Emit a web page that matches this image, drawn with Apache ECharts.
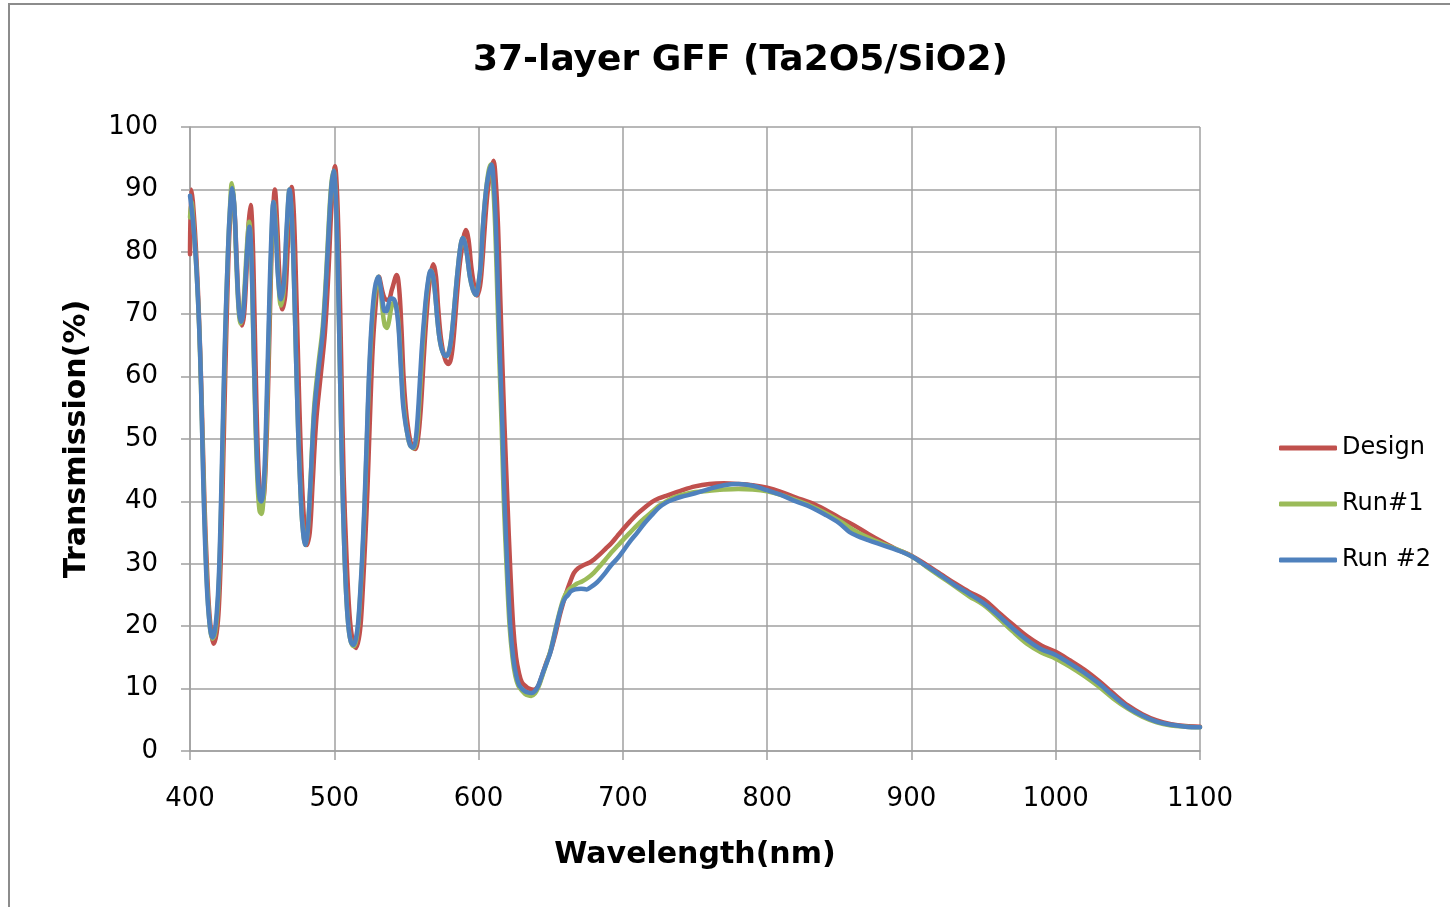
<!DOCTYPE html>
<html>
<head>
<meta charset="utf-8">
<title>37-layer GFF</title>
<script src="https://cdn.jsdelivr.net/npm/echarts@6/dist/echarts.min.js"></script>
<style>
html,body{margin:0;padding:0;background:#fff;}
#frame{position:absolute;left:8px;top:3px;width:1442px;height:904px;border-top:2px solid #8c8c8c;border-left:2px solid #8c8c8c;box-sizing:border-box;pointer-events:none;}
#chart{position:absolute;left:0;top:0;width:1450px;height:907px;}
</style>
</head>
<body>
<div id="chart"></div>
<div id="frame"></div>
<script>
// ---- data ----
const titleText = '37-layer GFF (Ta2O5/SiO2)';
const xTicks = [400, 500, 600, 700, 800, 900, 1000, 1100];
const yTicks = [0, 10, 20, 30, 40, 50, 60, 70, 80, 90, 100];
const seriesNames = ['Design', 'Run#1', 'Run #2'];

const wlDesign = [400,400.8,402,404,406,408,410,412,414,416.5,418.5,420,421.5,423,424.5,426,427.5,429.5,431,432.5,434,436,437.5,439,440.5,442,443.3,444.7,446,447.5,449,450,451.3,452.5,454,455.5,457,458.8,460.5,462,464,466,468,470.5,472,473.5,475,476.5,478.5,481,483,485,487.5,490.5,493.5,496,498,500.5,502,503.5,505,506.5,508.5,510.5,512.5,515,517,518.5,520,521.5,523,524.5,526.5,528.5,531,533,535,537.5,540,543.3,545,546.5,548,549.5,551,553.5,556,558,560,562,564,566,568.7,570.5,572,574,576.5,579,581,583,585,587.5,591.3,593,595,597,599,601,602.5,604,606,608,610.3,612,613.5,615,616.5,618,620,622,624,626,628,630,633,635,638,641,643,645,647,650,653,656,659,661,663,666,669,673,677,680,684,688,692,696,700,705,710,715,720,725,730,740,750,760,770,780,790,800,810,820,830,840,850,860,870,880,890,900,910,920,930,940,950,960,970,980,990,1000,1010,1020,1030,1040,1050,1060,1070,1080,1090,1100];
const tDesign = [79.6,90,88,81,71,57,40,28,20.5,17.2,19,23,32,46,61,74,84,89.5,86,78,71,68.2,70,76,84,87.5,83,70,56,45,40.5,39.8,41,46,57,71,83,90,84,76,70.8,73,82,90.4,86,75,62,50,39,33,35,43,53,60,67,77,87,93.7,89,77,60,44,31,22,18,16.5,18,21,27,34,42,52,64,71,76,74,72.5,72.3,74,76.3,74,68,60,55,52,49,48.4,50,55,63,70,75,78,76,71,66,63,62,63,67,73,79,83.5,82,77.5,74.5,73,74.5,78,83,89,92.5,94.6,91,84,73,62,52,40,29,20,15,12.5,11,10.3,10,9.8,10.3,11.4,12.8,14.2,16,18.5,21.5,24,25.5,26.8,28.5,29.3,29.8,30.2,30.7,31.5,32.4,33.3,34.4,35.5,36.8,38,39,39.9,40.5,40.9,41.7,42.4,42.8,42.9,42.8,42.6,42.2,41.5,40.6,39.8,38.7,37.4,36.2,34.8,33.5,32.3,31.3,29.9,28.4,26.9,25.5,24.3,22.3,20.3,18.4,16.9,15.9,14.5,13,11.2,9.2,7.3,5.9,4.9,4.3,4,3.9];

const wlRun1 = [400,401,402.5,404.5,406.5,408,409.5,411,413,415.5,417,418.5,420,421.5,423,424.5,426,427.5,429,430.5,432,433.5,435,436.5,438,439.5,441,442.4,443.8,445.3,446.8,448.2,449.5,450.8,452,453.3,454.8,456.3,458,459.5,461,463,465,467,469,470.5,472,473.5,475,476.5,478,480,481.5,483.5,486,489,492,494.5,496.5,498,499.5,501,502.5,504,505.5,507,508.5,510,511.5,513.5,515,516.5,518,519.5,521,522.5,524,526,528,530.5,532,533.5,535,536.5,538,539.5,541.5,543,544.5,546,547.5,549,550.5,552.5,555,557,559,561,563,565,567,568.5,570,571.5,573,575,577.5,579.5,581.5,583.5,585.5,587.5,589,590.5,592,594,596,598,600,601.5,603,605,607,608.5,610,611.5,613,614.5,616,617.5,619.5,621.5,623.5,625.5,627.5,630,632,634.5,636.5,639,641,643,645,647,649.5,652,655,658,660,662,665,668,672,676,680,684,688,692,696,700,705,710,715,720,725,730,735,740,750,760,770,780,790,800,810,820,830,840,850,860,870,880,890,900,910,920,930,940,950,960,970,980,990,1000,1010,1020,1030,1040,1050,1060,1070,1080,1090,1100];
const tRun1 = [85.5,88,84,77,67,55,42,31,22,18,18.5,21,27,38,53,67,78,86,91,88,79,71.5,68.5,70,75,81,84.8,80,67,53,43,38.5,38,40,45,55,68,80,88,84,76.5,71.4,74,83,90,86,76,63,51,42,36,33,35,43,55,62,68,77,86,91,93,89,77,60,44,32,24,19.5,17.5,16.8,17.5,20,25,31,39,49,59,68,73,76,74,70.5,68.2,67.8,69,71,72,71.3,68.5,63,57,53.5,51,49,48.5,50,56,64,70.5,75,77,76,73,69,66,64,63.3,64,67,72,77,81,82.2,81.5,79.5,76,74,73.1,75,78,84,89.5,93,94,91,84,73,62,52,40,29,20,15,12,10.5,9.7,9.2,8.9,8.8,9.2,10,11.2,12.6,14,15.8,18.2,21.2,23.8,25,25.7,26.3,26.8,27.2,27.8,28.6,29.6,30.7,31.8,32.8,33.8,35,36.2,37.3,38.3,39.3,40,40.6,41,41.5,41.7,41.9,42,41.9,41.6,41,40.2,39.3,38.2,36.9,35.4,34.2,33.2,32.3,31.2,29.6,28,26.4,24.8,23.4,21.4,19.2,17.2,15.8,14.8,13.5,12,10.3,8.4,6.8,5.5,4.6,4.1,3.9,3.8];

const wlRun2 = [400,402,404,406,407.5,409,410.5,412,414,415.5,417,418.5,420,421.5,423,424.5,426,427.5,429.3,430.8,432.3,433.8,435.3,436.8,438.3,439.8,441.2,442.6,444,445.5,447,448.3,449.3,450.5,451.8,453,454.5,456,457.8,459.5,461,463,465,467,469,470.5,472,473.5,475,476.5,478,479.9,481.5,483.5,486,489,492,494.5,496.5,498,499.5,501,502.5,504,505.5,507,508.5,510,511.5,513.3,515,516.5,518,519.5,521,522.5,524,526,528,530.5,532,533.5,535,536.3,537.5,539,541.3,543,544.5,546,547.5,549,550.5,552.5,554.7,556.5,558.5,560.5,562.5,564.5,566.8,568.5,570,571.5,573,575,577.4,579.5,581.5,583.5,585.5,587.5,589,590.5,592,594,596,598.2,600,601.5,603,605,607,609,610.5,612,613.5,615,616.5,618,620,622,624,626,628,630,632,634,636.8,639,641,643,645,647,649.5,652,655,658,660,662,664,667,671,675,678,681,684,688,692,696,700,705,710,715,720,725,730,735,740,750,760,770,780,790,800,810,820,830,840,850,857,862,870,880,890,900,910,920,930,940,950,960,970,980,990,1000,1010,1020,1030,1040,1050,1060,1070,1080,1090,1100];
const tRun2 = [89,85,79,70,60,45,33,25,19.5,18.2,19,22,28,40,55,68,78,86,90.2,87,78,71,68.8,70,75,81,84,79,66,53,44,40.5,40,41,46,55,68,80,88,83,76,72.4,75,84,90,86,76,63,51,42,36,33,35,43,54,61,67,76,85,90.5,93,89,77,60,44,32,24,19.5,17.5,17,18,20.5,25.5,32,40,50,60,69,74,76,74.5,72,70.5,70.5,71.5,72.5,72.4,71,68,62,56,53,51,49,48.6,50,56,64,70,74.5,77,76,73,69,66,64,63.3,64,67,72,77,81,82.2,81.5,79.5,76,74,73.1,75,78,84,89.5,92.5,94,91,84,73,62,52,40,29,20,15,12.2,10.6,10,9.6,9.4,9.3,9.6,10.3,11.5,12.8,14,15.6,18,21,23.5,24.5,25,25.6,25.9,26,25.9,26.3,26.8,27.5,28.6,29.8,30.8,32,33.6,35,36.5,37.8,39,39.8,40.3,40.7,41.3,42,42.6,42.8,42.5,41.8,41,40,39.1,37.9,36.5,35.1,34.5,33.8,33,32.2,31.2,29.7,28.2,26.6,25.2,23.7,21.8,19.7,17.8,16.3,15.4,14,12.5,10.8,8.8,7,5.7,4.7,4.2,3.9,3.8];

const colors = ['#C0504D', '#9BBB59', '#4F81BD'];

// ---- chart ----
const pairs = (xs, ys) => xs.map((x, i) => [x, ys[i]]);
const FONT = 'DejaVu Sans';
const chart = echarts.init(document.getElementById('chart'), null, {renderer: 'canvas'});
const mkSeries = (name, xs, ys, color) => ({
  name, type: 'line', data: pairs(xs, ys), showSymbol: false, symbol: 'none',
  smooth: 0.35, lineStyle: {width: 4.5, color: color, cap: 'round', join: 'round'},
  itemStyle: {color: color}, animation: false, z: 2
});
chart.setOption({
  backgroundColor: '#ffffff',
  animation: false,
  title: {
    text: titleText, left: 468, top: 38,
    textStyle: {fontFamily: FONT, fontSize: 36, fontWeight: 'bold', color: '#000'}
  },
  grid: {left: 190, top: 127, width: 1010, height: 624, containLabel: false},
  legend: {
    orient: 'vertical', left: 1274, top: 430, itemWidth: 58, itemHeight: 5, itemGap: 30,
    icon: 'roundRect',
    data: seriesNames,
    textStyle: {fontFamily: FONT, fontSize: 24, color: '#000', lineHeight: 26, padding: [0, 0, 0, 0]}
  },
  xAxis: {
    type: 'value', min: xTicks[0], max: xTicks[xTicks.length - 1], interval: 100,
    name: 'Wavelength(nm)', nameLocation: 'middle', nameGap: 89,
    nameTextStyle: {fontFamily: FONT, fontSize: 30, fontWeight: 'bold', color: '#000'},
    axisLine: {show: true, onZero: false, lineStyle: {color: '#a0a0a0', width: 1.5}},
    axisTick: {show: true, length: 9, lineStyle: {color: '#a0a0a0', width: 1.5}},
    axisLabel: {fontFamily: FONT, fontSize: 26, color: '#000', margin: 35, showMaxLabel: true, showMinLabel: true,
      formatter: v => String(v)},
    splitLine: {show: true, lineStyle: {color: '#a0a0a0', width: 1.5}}
  },
  yAxis: {
    type: 'value', min: yTicks[0], max: yTicks[yTicks.length - 1], interval: 10,
    name: 'Transmission(%)', nameLocation: 'middle', nameGap: 98, nameRotate: 90,
    nameTextStyle: {fontFamily: FONT, fontSize: 30, fontWeight: 'bold', color: '#000'},
    axisLine: {show: true, lineStyle: {color: '#a0a0a0', width: 1.5}},
    axisTick: {show: true, length: 9, lineStyle: {color: '#a0a0a0', width: 1.5}},
    axisLabel: {fontFamily: FONT, fontSize: 26, color: '#000', margin: 32, formatter: v => String(v)},
    splitLine: {show: true, lineStyle: {color: '#a0a0a0', width: 1.5}}
  },
  series: [
    mkSeries(seriesNames[0], wlDesign, tDesign, colors[0]),
    mkSeries(seriesNames[1], wlRun1, tRun1, colors[1]),
    mkSeries(seriesNames[2], wlRun2, tRun2, colors[2])
  ]
});
</script>
</body>
</html>
